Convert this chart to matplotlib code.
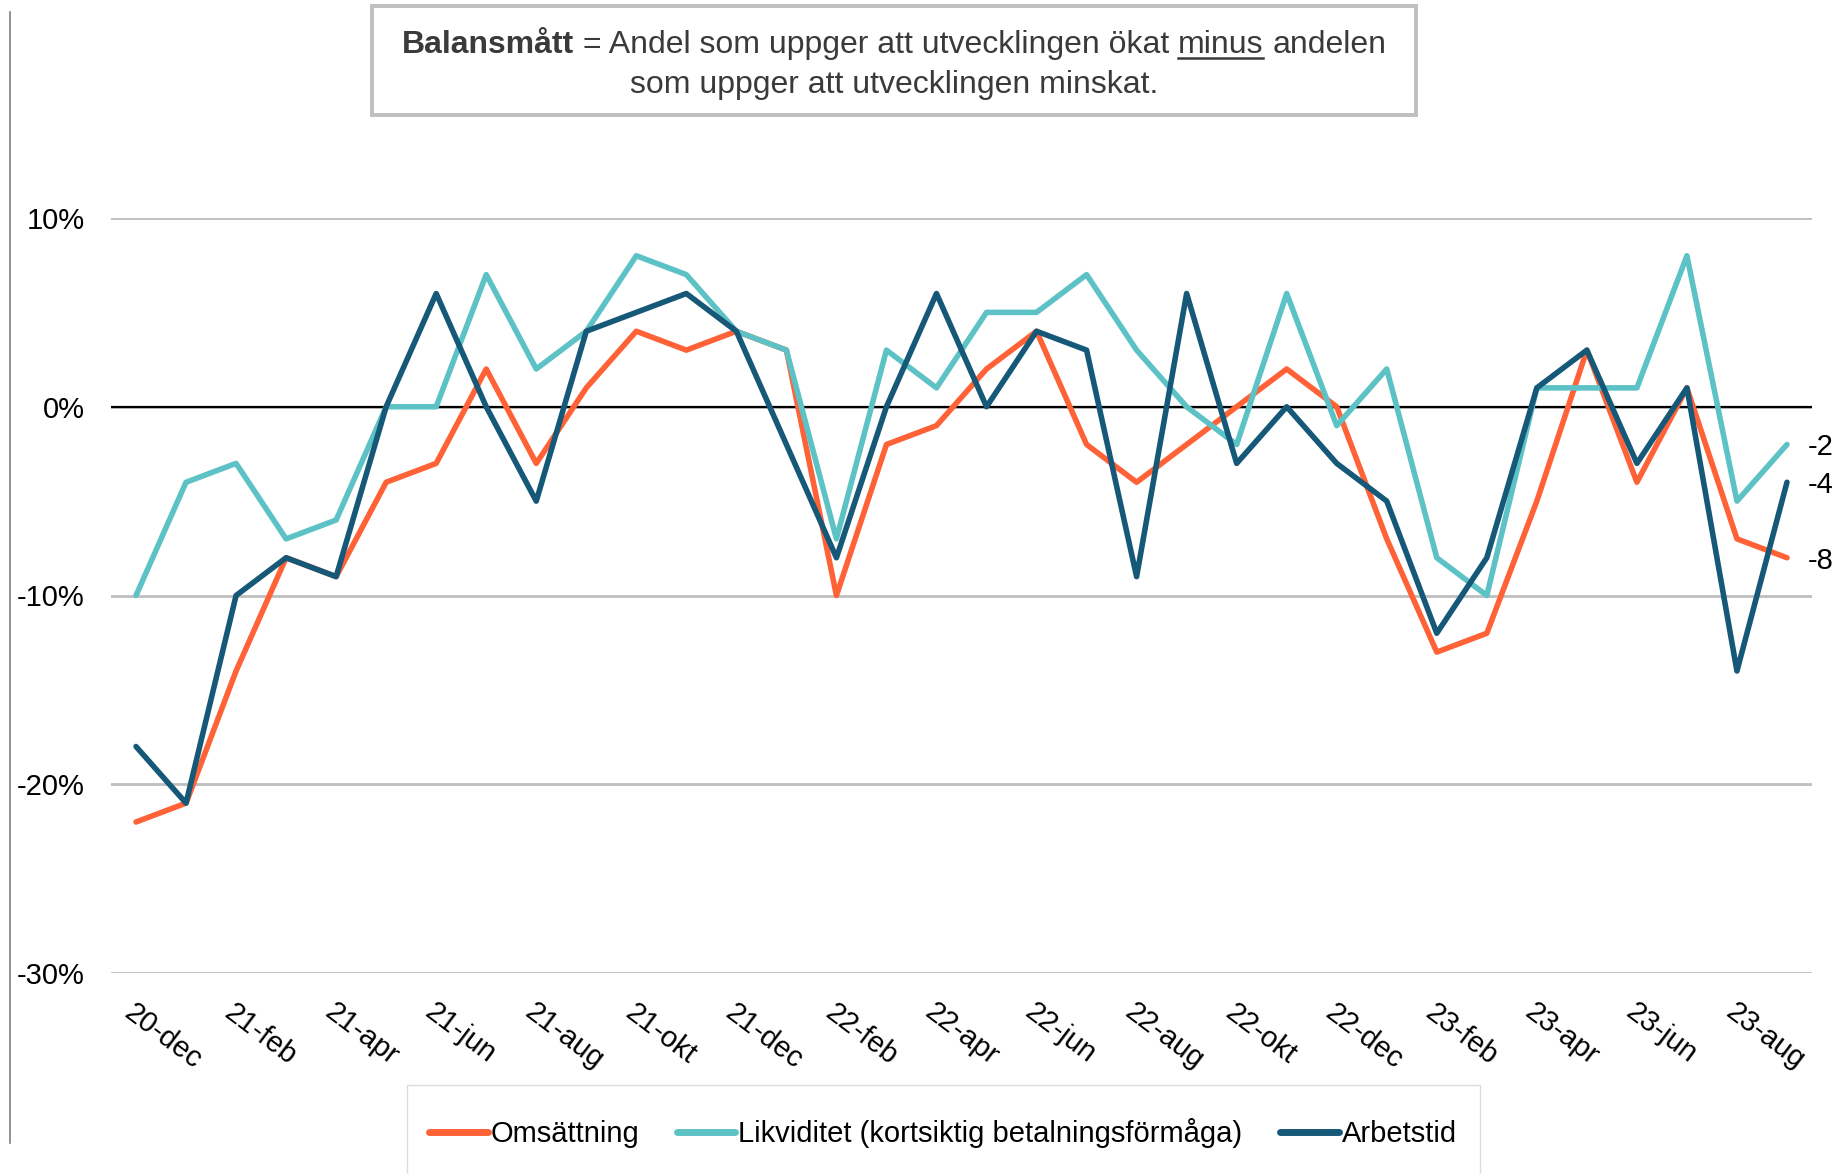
import numpy as np
import matplotlib
matplotlib.use("Agg")
import matplotlib.pyplot as plt
from matplotlib.lines import Line2D
from matplotlib.patches import Rectangle
from matplotlib.ticker import FuncFormatter

plt.rcParams["font.family"] = ["Liberation Sans", "DejaVu Sans"]

months = [
    "20-dec",
    "21-jan", "21-feb", "21-mar", "21-apr", "21-maj", "21-jun",
    "21-jul", "21-aug", "21-sep", "21-okt", "21-nov", "21-dec",
    "22-jan", "22-feb", "22-mar", "22-apr", "22-maj", "22-jun",
    "22-jul", "22-aug", "22-sep", "22-okt", "22-nov", "22-dec",
    "23-jan", "23-feb", "23-mar", "23-apr", "23-maj", "23-jun",
    "23-jul", "23-aug", "23-sep",
]

omsattning = [-22, -21, -14, -8, -9, -4, -3, 2, -3, 1, 4, 3, 4, 3, -10, -2, -1,
              2, 4, -2, -4, -2, 0, 2, 0, -7, -13, -12, -5, 3, -4, 1, -7, -8]
likviditet = [-10, -4, -3, -7, -6, 0, 0, 7, 2, 4, 8, 7, 4, 3, -7, 3, 1,
              5, 5, 7, 3, 0, -2, 6, -1, 2, -8, -10, 1, 1, 1, 8, -5, -2]
arbetstid = [-18, -21, -10, -8, -9, 0, 6, 0, -5, 4, 5, 6, 4, -2, -8, 0, 6,
             0, 4, 3, -9, 6, -3, 0, -3, -5, -12, -8, 1, 3, -3, 1, -14, -4]

series = [
    ("Omsättning", omsattning, "#FF6236"),
    ("Likviditet (kortsiktig betalningsförmåga)", likviditet, "#5DC2C6"),
    ("Arbetstid", arbetstid, "#165878"),
]

W, H = 1839, 1174
fig = plt.figure(figsize=(W / 100, H / 100), dpi=100)
ax = fig.add_axes([111 / W, 1 - 973 / H, (1812 - 111) / W, (973 - 218) / H])

x = np.arange(len(months))
lines = []
for name, vals, col in series:
    ln, = ax.plot(x, vals, color=col, lw=4.0, label=name, zorder=3,
                  solid_joinstyle="round", solid_capstyle="round")
    lines.append(ln)

# end labels
for name, vals, col in series:
    ax.annotate(f"{vals[-1]}", xy=(x[-1], vals[-1]), xytext=(15, -2),
                textcoords="offset points", ha="left", va="center",
                fontsize=21, color="black", annotation_clip=False)

ax.set_xlim(-0.5, len(months) - 0.5)
ax.set_ylim(-30, 10)
ax.set_yticks([-30, -20, -10, 0, 10])
ax.yaxis.set_major_formatter(FuncFormatter(lambda v, p: f"{v:.0f}%"))
ax.set_xticks(x[::2])
ax.set_xticklabels(months[::2], rotation=-37, ha="left", va="top",
                   rotation_mode="anchor")
ax.grid(axis="y", color="#bfbfbf", lw=2.0, zorder=1)
ax.axhline(0, color="black", lw=1.6, zorder=2)
for s in ax.spines.values():
    s.set_visible(False)
ax.tick_params(axis="both", length=0, labelsize=21, colors="black")
ax.tick_params(axis="y", pad=19)
ax.tick_params(axis="x", pad=18)

# legend with its own light frame
leg = fig.legend(handles=lines, loc="center", bbox_to_anchor=(943 / W, 1 - 1133 / H),
                 ncol=3, frameon=False, fontsize=21, handlelength=2.0,
                 handletextpad=0.1, columnspacing=1.3)
for h in leg.get_lines():
    h.set_linewidth(5)
    h.set_solid_capstyle("round")
fig.add_artist(Rectangle((407 / W, -0.01), (1480 - 407) / W, (1174 - 1085) / H + 0.01,
                         transform=fig.transFigure, fill=False,
                         edgecolor="#dcdcdc", lw=1.0))

# left border line
fig.add_artist(Line2D([10 / W, 10 / W], [1 - 12 / H, 1 - 1143 / H],
                      transform=fig.transFigure, color="#808080", lw=1.2))

# info box at the top
fig.add_artist(Rectangle((372 / W, 1 - 115 / H), (1416 - 372) / W, (115 - 6) / H,
                         transform=fig.transFigure, facecolor="white",
                         edgecolor="#bfbfbf", lw=2.8))

txt_col = "#3a3a3a"
fs_box = 23
y1 = 1 - 53 / H
y2 = 1 - 93 / H
parts = [("Balansmått", "bold"), ("= Andel som uppger att utvecklingen ökat", "normal"),
         ("minus", "normal"), ("andelen", "normal")]
texts = [fig.text(0, y1, p, fontsize=fs_box, fontweight=w, color=txt_col,
                  ha="left", va="baseline") for p, w in parts]
fig.canvas.draw()
r = fig.canvas.get_renderer()
widths = [t.get_window_extent(r).width for t in texts]
probe1 = fig.text(0, 0, "a a", fontsize=fs_box)
probe2 = fig.text(0, 0, "aa", fontsize=fs_box)
space = probe1.get_window_extent(r).width - probe2.get_window_extent(r).width
probe1.remove()
probe2.remove()
total = sum(widths) + space * (len(widths) - 1)
cx = 894
xpos = cx - total / 2
for t, w in zip(texts, widths):
    t.set_x(xpos / W)
    if t.get_text() == "minus":
        fig.add_artist(Line2D([xpos / W, (xpos + w) / W], [y1 - 5 / H, y1 - 5 / H],
                              transform=fig.transFigure, color=txt_col, lw=1.8))
    xpos += w + space

fig.text(cx / W, y2, "som uppger att utvecklingen minskat.", fontsize=fs_box,
         color=txt_col, ha="center", va="baseline")

fig.savefig("out.png", dpi=100)
